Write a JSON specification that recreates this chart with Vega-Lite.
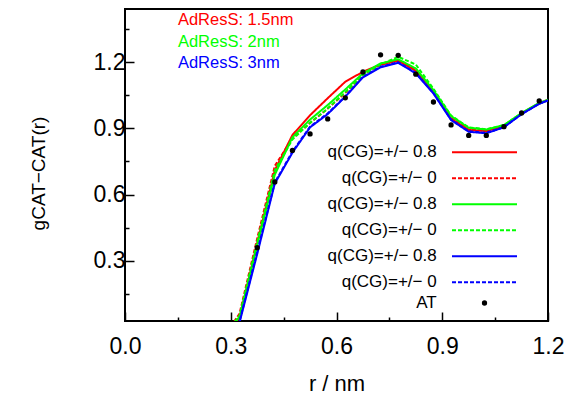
{
  "$schema": "https://vega.github.io/schema/vega-lite/v6.json",
  "width": 423,
  "height": 312,
  "autosize": {"type": "none"},
  "padding": {"left": 125, "top": 9, "right": 21, "bottom": 74},
  "datasets": {
    "rdf": [
      {"r":0.3,"g":0,"s":"1.5nm q0.8"},{"r":0.325,"g":0.04,"s":"1.5nm q0.8"},{"r":0.375,"g":0.38,"s":"1.5nm q0.8"},{"r":0.425,"g":0.71,"s":"1.5nm q0.8"},{"r":0.475,"g":0.87,"s":"1.5nm q0.8"},{"r":0.525,"g":0.96,"s":"1.5nm q0.8"},{"r":0.575,"g":1.037,"s":"1.5nm q0.8"},{"r":0.625,"g":1.112,"s":"1.5nm q0.8"},{"r":0.675,"g":1.157,"s":"1.5nm q0.8"},{"r":0.725,"g":1.19,"s":"1.5nm q0.8"},{"r":0.775,"g":1.207,"s":"1.5nm q0.8"},{"r":0.825,"g":1.162,"s":"1.5nm q0.8"},{"r":0.875,"g":1.065,"s":"1.5nm q0.8"},{"r":0.925,"g":0.945,"s":"1.5nm q0.8"},{"r":0.975,"g":0.893,"s":"1.5nm q0.8"},{"r":1.025,"g":0.888,"s":"1.5nm q0.8"},{"r":1.075,"g":0.91,"s":"1.5nm q0.8"},{"r":1.125,"g":0.968,"s":"1.5nm q0.8"},{"r":1.175,"g":1.014,"s":"1.5nm q0.8"},{"r":1.2,"g":1.03,"s":"1.5nm q0.8"},
      {"r":0.3,"g":0,"s":"1.5nm q0"},{"r":0.325,"g":0.06,"s":"1.5nm q0"},{"r":0.375,"g":0.40,"s":"1.5nm q0"},{"r":0.425,"g":0.73,"s":"1.5nm q0"},{"r":0.475,"g":0.855,"s":"1.5nm q0"},{"r":0.525,"g":0.925,"s":"1.5nm q0"},{"r":0.575,"g":0.99,"s":"1.5nm q0"},{"r":0.625,"g":1.062,"s":"1.5nm q0"},{"r":0.675,"g":1.142,"s":"1.5nm q0"},{"r":0.725,"g":1.188,"s":"1.5nm q0"},{"r":0.775,"g":1.21,"s":"1.5nm q0"},{"r":0.825,"g":1.168,"s":"1.5nm q0"},{"r":0.875,"g":1.068,"s":"1.5nm q0"},{"r":0.925,"g":0.948,"s":"1.5nm q0"},{"r":0.975,"g":0.895,"s":"1.5nm q0"},{"r":1.025,"g":0.89,"s":"1.5nm q0"},{"r":1.075,"g":0.911,"s":"1.5nm q0"},{"r":1.125,"g":0.968,"s":"1.5nm q0"},{"r":1.175,"g":1.013,"s":"1.5nm q0"},{"r":1.2,"g":1.028,"s":"1.5nm q0"},
      {"r":0.3,"g":0,"s":"2nm q0.8"},{"r":0.325,"g":0.045,"s":"2nm q0.8"},{"r":0.375,"g":0.37,"s":"2nm q0.8"},{"r":0.425,"g":0.69,"s":"2nm q0.8"},{"r":0.475,"g":0.86,"s":"2nm q0.8"},{"r":0.525,"g":0.94,"s":"2nm q0.8"},{"r":0.575,"g":1.006,"s":"2nm q0.8"},{"r":0.625,"g":1.077,"s":"2nm q0.8"},{"r":0.675,"g":1.15,"s":"2nm q0.8"},{"r":0.725,"g":1.195,"s":"2nm q0.8"},{"r":0.775,"g":1.214,"s":"2nm q0.8"},{"r":0.825,"g":1.172,"s":"2nm q0.8"},{"r":0.875,"g":1.074,"s":"2nm q0.8"},{"r":0.925,"g":0.956,"s":"2nm q0.8"},{"r":0.975,"g":0.903,"s":"2nm q0.8"},{"r":1.025,"g":0.895,"s":"2nm q0.8"},{"r":1.075,"g":0.915,"s":"2nm q0.8"},{"r":1.125,"g":0.97,"s":"2nm q0.8"},{"r":1.175,"g":1.016,"s":"2nm q0.8"},{"r":1.2,"g":1.03,"s":"2nm q0.8"},
      {"r":0.3,"g":0,"s":"2nm q0"},{"r":0.325,"g":0.05,"s":"2nm q0"},{"r":0.375,"g":0.385,"s":"2nm q0"},{"r":0.425,"g":0.71,"s":"2nm q0"},{"r":0.475,"g":0.85,"s":"2nm q0"},{"r":0.525,"g":0.925,"s":"2nm q0"},{"r":0.575,"g":0.99,"s":"2nm q0"},{"r":0.625,"g":1.065,"s":"2nm q0"},{"r":0.675,"g":1.14,"s":"2nm q0"},{"r":0.725,"g":1.19,"s":"2nm q0"},{"r":0.775,"g":1.225,"s":"2nm q0"},{"r":0.825,"g":1.19,"s":"2nm q0"},{"r":0.875,"g":1.08,"s":"2nm q0"},{"r":0.925,"g":0.958,"s":"2nm q0"},{"r":0.975,"g":0.905,"s":"2nm q0"},{"r":1.025,"g":0.896,"s":"2nm q0"},{"r":1.075,"g":0.915,"s":"2nm q0"},{"r":1.125,"g":0.968,"s":"2nm q0"},{"r":1.175,"g":1.013,"s":"2nm q0"},{"r":1.2,"g":1.027,"s":"2nm q0"},
      {"r":0.3,"g":0,"s":"3nm q0.8"},{"r":0.325,"g":0.02,"s":"3nm q0.8"},{"r":0.375,"g":0.33,"s":"3nm q0.8"},{"r":0.425,"g":0.65,"s":"3nm q0.8"},{"r":0.475,"g":0.79,"s":"3nm q0.8"},{"r":0.525,"g":0.905,"s":"3nm q0.8"},{"r":0.575,"g":0.965,"s":"3nm q0.8"},{"r":0.625,"g":1.044,"s":"3nm q0.8"},{"r":0.675,"g":1.132,"s":"3nm q0.8"},{"r":0.725,"g":1.177,"s":"3nm q0.8"},{"r":0.775,"g":1.198,"s":"3nm q0.8"},{"r":0.825,"g":1.15,"s":"3nm q0.8"},{"r":0.875,"g":1.059,"s":"3nm q0.8"},{"r":0.925,"g":0.938,"s":"3nm q0.8"},{"r":0.975,"g":0.885,"s":"3nm q0.8"},{"r":1.025,"g":0.878,"s":"3nm q0.8"},{"r":1.075,"g":0.905,"s":"3nm q0.8"},{"r":1.125,"g":0.965,"s":"3nm q0.8"},{"r":1.175,"g":1.012,"s":"3nm q0.8"},{"r":1.2,"g":1.027,"s":"3nm q0.8"},
      {"r":0.3,"g":0,"s":"3nm q0"},{"r":0.325,"g":0.025,"s":"3nm q0"},{"r":0.375,"g":0.34,"s":"3nm q0"},{"r":0.425,"g":0.655,"s":"3nm q0"},{"r":0.475,"g":0.795,"s":"3nm q0"},{"r":0.525,"g":0.908,"s":"3nm q0"},{"r":0.575,"g":0.968,"s":"3nm q0"},{"r":0.625,"g":1.046,"s":"3nm q0"},{"r":0.675,"g":1.134,"s":"3nm q0"},{"r":0.725,"g":1.18,"s":"3nm q0"},{"r":0.775,"g":1.2,"s":"3nm q0"},{"r":0.825,"g":1.152,"s":"3nm q0"},{"r":0.875,"g":1.06,"s":"3nm q0"},{"r":0.925,"g":0.94,"s":"3nm q0"},{"r":0.975,"g":0.887,"s":"3nm q0"},{"r":1.025,"g":0.88,"s":"3nm q0"},{"r":1.075,"g":0.906,"s":"3nm q0"},{"r":1.125,"g":0.965,"s":"3nm q0"},{"r":1.175,"g":1.012,"s":"3nm q0"},{"r":1.2,"g":1.027,"s":"3nm q0"}
    ],
    "at": [
      {"r":0.375,"g":0.359,"src":"AT"},{"r":0.425,"g":0.657,"src":"AT"},{"r":0.475,"g":0.80,"src":"AT"},{"r":0.525,"g":0.875,"src":"AT"},{"r":0.575,"g":0.943,"src":"AT"},{"r":0.625,"g":1.039,"src":"AT"},{"r":0.675,"g":1.156,"src":"AT"},{"r":0.725,"g":1.234,"src":"AT"},{"r":0.775,"g":1.232,"src":"AT"},{"r":0.825,"g":1.146,"src":"AT"},{"r":0.875,"g":1.02,"src":"AT"},{"r":0.925,"g":0.916,"src":"AT"},{"r":0.975,"g":0.868,"src":"AT"},{"r":1.025,"g":0.868,"src":"AT"},{"r":1.075,"g":0.908,"src":"AT"},{"r":1.125,"g":0.97,"src":"AT"},{"r":1.175,"g":1.025,"src":"AT"}
    ],
    "runs": [
      {"r":0.15,"g":1.39,"run":"1.5nm","label":"AdResS: 1.5nm"},
      {"r":0.15,"g":1.294,"run":"2nm","label":"AdResS: 2nm"},
      {"r":0.15,"g":1.195,"run":"3nm","label":"AdResS: 3nm"}
    ]
  },
  "encoding": {
    "x": {"field": "r", "type": "quantitative",
      "scale": {"domain": [0, 1.2], "nice": false, "zero": false},
      "axis": {
        "values": [0, 0.15, 0.3, 0.45, 0.6, 0.75, 0.9, 1.05, 1.2],
        "labelExpr": "abs(datum.value/0.3 - round(datum.value/0.3)) < 0.01 ? format(datum.value, '.1f') : ''",
        "tickSize": {"condition": {"test": "abs(datum.value/0.3 - round(datum.value/0.3)) < 0.01", "value": -9}, "value": -4},
        "labelPadding": 23,
        "labelOverlap": false, "labelFlush": false, "labelBound": false,
        "title": "r / nm", "titleY": 62, "titleBaseline": "middle"
      }
    },
    "y": {"field": "g", "type": "quantitative",
      "scale": {"domain": [0.026, 1.442], "nice": false, "zero": false},
      "axis": {
        "values": [0.15, 0.3, 0.45, 0.6, 0.75, 0.9, 1.05, 1.2, 1.35],
        "labelExpr": "abs(datum.value/0.3 - round(datum.value/0.3)) < 0.01 ? format(datum.value, '.1f') : ''",
        "tickSize": {"condition": {"test": "abs(datum.value/0.3 - round(datum.value/0.3)) < 0.01", "value": -9}, "value": -4},
        "labelPadding": 9,
        "labelOverlap": false, "labelFlush": false, "labelBound": false,
        "title": "gCAT−CAT(r)", "titleFontSize": 19, "titleX": -87, "titleY": 164, "titleBaseline": "middle", "titleAngle": -90
      }
    }
  },
  "layer": [
    {
      "data": {"name": "rdf"},
      "mark": {"type": "line", "clip": true},
      "encoding": {
        "color": {"field": "s", "type": "nominal",
          "scale": {"domain": ["1.5nm q0.8", "1.5nm q0", "2nm q0.8", "2nm q0", "3nm q0.8", "3nm q0"],
                    "range": ["#ff0000", "#ff0000", "#00ff00", "#00ff00", "#0000ff", "#0000ff"]},
          "legend": {
            "orient": "none", "legendX": 351, "legendY": 134.8, "title": null,
            "symbolType": "M-6.5,0H6.5", "symbolSize": 100,
            "rowPadding": 8, "padding": 0,
            "labelAlign": "right", "labelOffset": -56.3, "labelFontSize": 17, "labelFont": "Liberation Sans", "labelColor": "black", "labelLimit": 0,
            "labelExpr": "indexof(datum.label, 'q0.8') >= 0 ? 'q(CG)=+/− 0.8' : 'q(CG)=+/− 0'"
          }
        },
        "strokeDash": {"field": "s", "type": "nominal",
          "scale": {"domain": ["1.5nm q0.8", "1.5nm q0", "2nm q0.8", "2nm q0", "3nm q0.8", "3nm q0"],
                    "range": [[1, 0], [4, 2], [1, 0], [4, 2], [1, 0], [4, 2]]}},
        "strokeWidth": {"field": "s", "type": "nominal",
          "scale": {"domain": ["1.5nm q0.8", "1.5nm q0", "2nm q0.8", "2nm q0", "3nm q0.8", "3nm q0"],
                    "range": [2, 2, 2, 2, 2.6, 2.6]}}
      }
    },
    {
      "data": {"name": "at"},
      "mark": {"type": "point", "filled": true, "color": "black", "size": 28, "opacity": 1},
      "encoding": {
        "shape": {"field": "src", "type": "nominal", "scale": {"range": ["circle"]},
          "legend": {
            "orient": "none", "legendX": 351, "legendY": 285.5, "title": null,
            "symbolSize": 28, "symbolFillColor": "black", "symbolStrokeColor": "black", "symbolStrokeWidth": 0, "symbolOpacity": 1,
            "rowPadding": 0, "padding": 0,
            "labelAlign": "right", "labelOffset": -56.3, "labelFontSize": 17, "labelFont": "Liberation Sans", "labelColor": "black"
          }
        }
      }
    },
    {
      "data": {"name": "runs"},
      "mark": {"type": "text", "align": "left", "baseline": "middle", "fontSize": 16.5, "font": "Liberation Sans"},
      "encoding": {
        "text": {"field": "label"},
        "fill": {"field": "run", "type": "nominal",
          "scale": {"domain": ["1.5nm", "2nm", "3nm"], "range": ["#ff0000", "#00ff00", "#0000ff"]}, "legend": null}
      }
    }
  ],
  "config": {
    "view": {"stroke": "black", "strokeWidth": 2},
    "font": "Liberation Sans",
    "axis": {
      "grid": false, "domain": false,
      "tickColor": "black", "tickWidth": 1.5,
      "labelColor": "black", "titleColor": "black",
      "labelFont": "Liberation Sans", "titleFont": "Liberation Sans",
      "labelFontSize": 23, "titleFontSize": 22, "titleFontWeight": "normal"
    }
  }
}
